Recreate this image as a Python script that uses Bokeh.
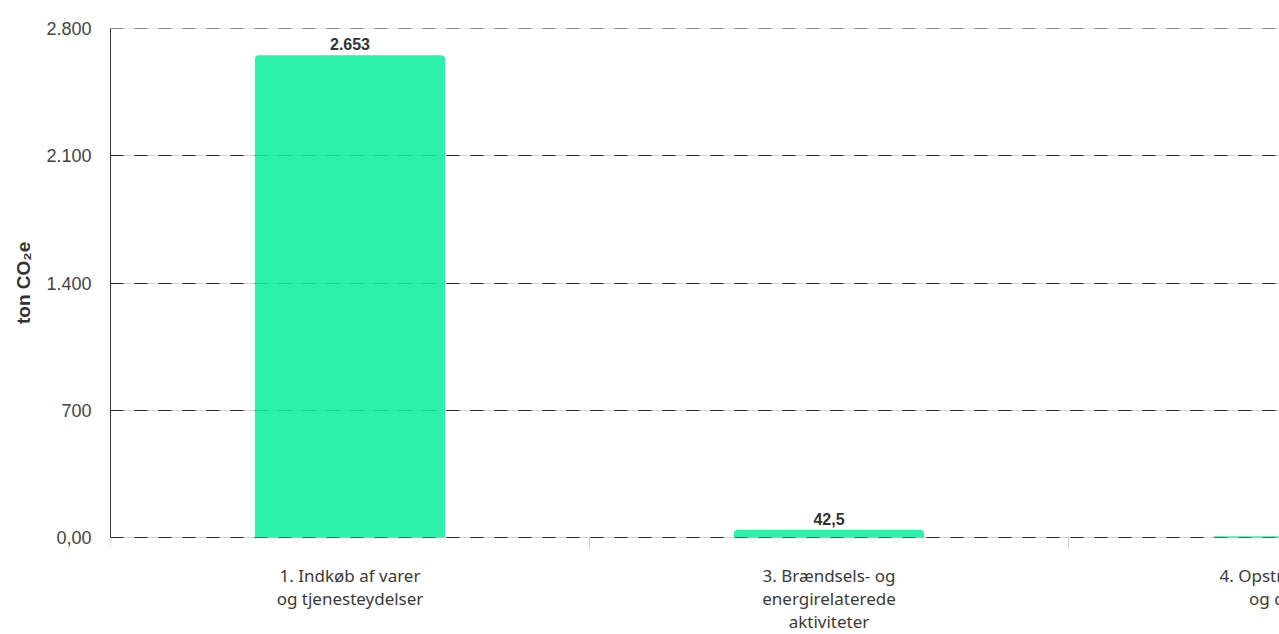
from bokeh.plotting import figure
from bokeh.models import Range1d, FixedTicker, Grid, ColumnDataSource, Title
from bokeh.core.properties import value
from bokeh.embed import file_html
from bokeh.resources import INLINE

categories = ["1. Indkøb af varer\nog tjenesteydelser",
              "3. Brændsels- og\nenergirelaterede\naktiviteter",
              "4. Opstrøms transport\nog distribution"]
values = [2653, 42.5, 8]
value_labels = ["2.653", "42,5", "8"]
y_ticks = [0, 700, 1400, 2100, 2800]
y_tick_labels = ["0,00", "700", "1.400", "2.100", "2.800"]
y_title = "ton CO₂e"

# layout (pixels)
W, H = 1279, 634
LEFT, TOP, AXIS_Y = 110, 28, 537
BAND = 479
TITLE_LEN = 82                        # approx. rendered length of the y title
Y_MAX = y_ticks[-1]
k = (AXIS_Y - TOP) / Y_MAX            # px per unit
y_end = Y_MAX + 0.5
y_start = y_end - (H - TOP) / k        # frame reaches the bottom so labels below the axis show

xs = [i + 0.5 for i in range(len(categories))]
bounds = list(range(len(categories) + 1))
src = ColumnDataSource(dict(x=xs, top=values, lab=value_labels, cat=categories))

p = figure(width=W, height=H, output_backend="svg", toolbar_location=None,
           x_range=Range1d(0, (W - LEFT) / BAND), y_range=Range1d(y_start, y_end),
           min_border_left=LEFT, min_border_top=TOP, min_border_bottom=0, min_border_right=0,
           x_axis_type=None)
p.outline_line_color = None
p.background_fill_color = "white"
p.border_fill_color = "white"

# light solid base grid (also acts as x axis line at 0)
p.xgrid.visible = False
p.ygrid.ticker = FixedTicker(ticks=y_ticks)
p.ygrid.grid_line_color = "#d4d4d4"
p.ygrid.grid_line_width = 1

dash_grid = Grid(dimension=1, ticker=FixedTicker(ticks=y_ticks),
                 grid_line_color="#2b2b2b", grid_line_dash="13 11", grid_line_width=1)
p.add_layout(dash_grid)

# y axis
ya = p.yaxis[0]
ya.ticker = FixedTicker(ticks=y_ticks)
ya.bounds = (0, Y_MAX)
ya.major_label_overrides = {t: l for t, l in zip(y_ticks, y_tick_labels)}
ya.major_tick_out = 0
ya.major_tick_in = 0
ya.minor_tick_out = 0
ya.minor_tick_in = 0
ya.axis_line_color = "#333333"
ya.major_label_standoff = 19
ya.major_label_text_font = "Liberation Sans"
ya.major_label_text_font_size = "18px"
ya.major_label_text_color = "#444444"

# y title, centred on the value axis (not on the extended frame)
axis_mid = (TOP + AXIS_Y) / 2
p.add_layout(Title(text=y_title, align="left", offset=H - (axis_mid + TITLE_LEN / 2),
                   standoff=19, text_font="Liberation Sans", text_font_style="bold",
                   text_font_size="19px", text_color="#333333"), "left")

# category boundary ticks below the axis line
tick_len = 10 / k
p.segment(x0=bounds, y0=[0] * len(bounds), x1=bounds, y1=[-tick_len] * len(bounds),
          line_color="#cccccc", line_width=1)

# bars
p.vbar(x="x", top="top", width=0.397, bottom=0, source=src,
       fill_color="#10EE9E", fill_alpha=0.88, line_color=None,
       border_radius=(4, 4, 0, 0))

# value labels
p.text(x="x", y="top", text="lab", source=src, y_offset=-5,
       text_align="center", text_baseline="bottom",
       text_font=value("Liberation Sans"), text_font_style="bold",
       text_font_size="16px", text_color="#333333")

# category labels
p.text(x="x", y=0, text="cat", source=src, y_offset=26,
       text_align="center", text_baseline="top",
       text_font=value("Noto Sans"), text_font_size="17px",
       text_color="#3a3a3a", text_line_height=1.0)

open("out.html", "w").write(file_html(p, INLINE))
